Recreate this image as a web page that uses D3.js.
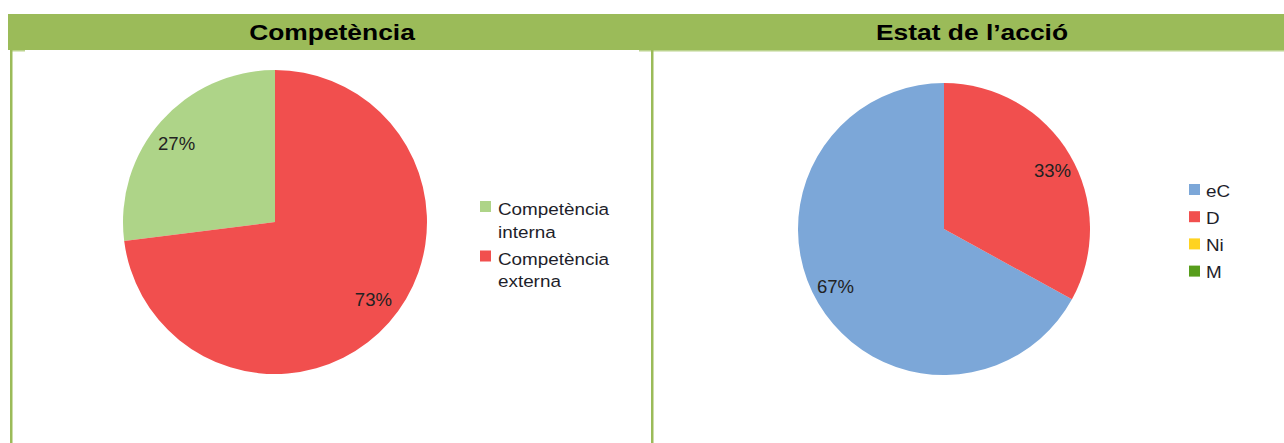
<!DOCTYPE html>
<html>
<head>
<meta charset="utf-8">
<script src="https://cdn.jsdelivr.net/npm/d3@7"></script>
<style>
  html, body { margin: 0; padding: 0; background: #fff; }
  svg { display: block; font-family: "Liberation Sans", Arial, sans-serif; }
</style>
</head>
<body>
<svg id="chart" width="1284" height="443"></svg>
<script>
// ---- data ----
const titles = ["Competència", "Estat de l’acció"];
const compCategories = ["Competència interna", "Competència externa"];
const compLegendLines = [["Competència", "interna"], ["Competència", "externa"]];
const compValues = [27, 73];
const compColors = ["#AED488", "#F14F4E"];

const estatCategories = ["eC", "D", "Ni", "M"];
const estatValues = [67, 33, 0, 0];
const estatColors = ["#7CA7D8", "#F14F4E", "#FFD320", "#579D1C"];

const svg = d3.select("#chart");
const headerColor = "#9BBB59";

// header bar
svg.append("rect").attr("x", 8).attr("y", 14).attr("width", 1276).attr("height", 36).attr("fill", headerColor);
svg.append("rect").attr("x", 639).attr("y", 50).attr("width", 645).attr("height", 1.5).attr("fill", "#BBD38E");
svg.append("rect").attr("x", 10).attr("y", 50).attr("width", 15).attr("height", 1.5).attr("fill", "#BBD38E");
// vertical frame lines
svg.append("rect").attr("x", 10).attr("y", 50).attr("width", 2.5).attr("height", 393).attr("fill", headerColor);
svg.append("rect").attr("x", 651).attr("y", 50).attr("width", 2.5).attr("height", 393).attr("fill", headerColor);

// helper: horizontally stretched text (reference glyphs are wider than the font)
function stretchedText(parent, x, y, str, size, sx, anchor, weight, fill) {
  return parent.append("text")
    .attr("transform", `translate(${x},${y}) scale(${sx},1)`)
    .attr("text-anchor", anchor).attr("font-size", size)
    .attr("font-weight", weight).attr("fill", fill).text(str);
}

// titles
const titleX = [332, 972];
titles.forEach((t, i) => {
  stretchedText(svg, titleX[i], 40, t, 22, 1.2, "middle", "bold", "#000");
});

function drawPie(cx, cy, r, values, colors) {
  const pie = d3.pie().sort(null).startAngle(0).endAngle(-2 * Math.PI);
  const arcs = pie(values);
  const arc = d3.arc().innerRadius(0).outerRadius(r);
  const labelArc = d3.arc().innerRadius(r * 0.83).outerRadius(r * 0.83);
  const total = d3.sum(values);
  const g = svg.append("g").attr("transform", `translate(${cx},${cy})`);
  g.selectAll("path").data(arcs).join("path")
    .attr("d", arc).attr("fill", (d, i) => colors[i]);
  arcs.filter(d => d.value > 0).forEach(d => {
    const [lx, ly] = labelArc.centroid(d);
    stretchedText(g, lx * 1.04, ly * 0.94 + 6, Math.round(d.value / total * 100) + "%",
      17.5, 1.06, "middle", "normal", "#222");
  });
}

drawPie(275, 222, 152, compValues, compColors);
drawPie(944, 229, 146, estatValues, estatColors);

// left legend
const legL = svg.append("g");
compCategories.forEach((c, i) => {
  const y0 = 201 + i * 49.5;
  legL.append("rect").attr("x", 480).attr("y", y0).attr("width", 11).attr("height", 11).attr("fill", compColors[i]);
  compLegendLines[i].forEach((line, j) => {
    stretchedText(legL, 498, y0 + 14 + j * 22.5, line, 17, 1.11, "start", "normal", "#1e1e2a");
  });
});

// right legend
const legR = svg.append("g");
estatCategories.forEach((c, i) => {
  const y0 = 184 + i * 27.2;
  legR.append("rect").attr("x", 1189).attr("y", y0).attr("width", 11).attr("height", 11).attr("fill", estatColors[i]);
  stretchedText(legR, 1206, y0 + 12.5, c, 17, 1.11, "start", "normal", "#1e1e2a");
});
</script>
</body>
</html>
